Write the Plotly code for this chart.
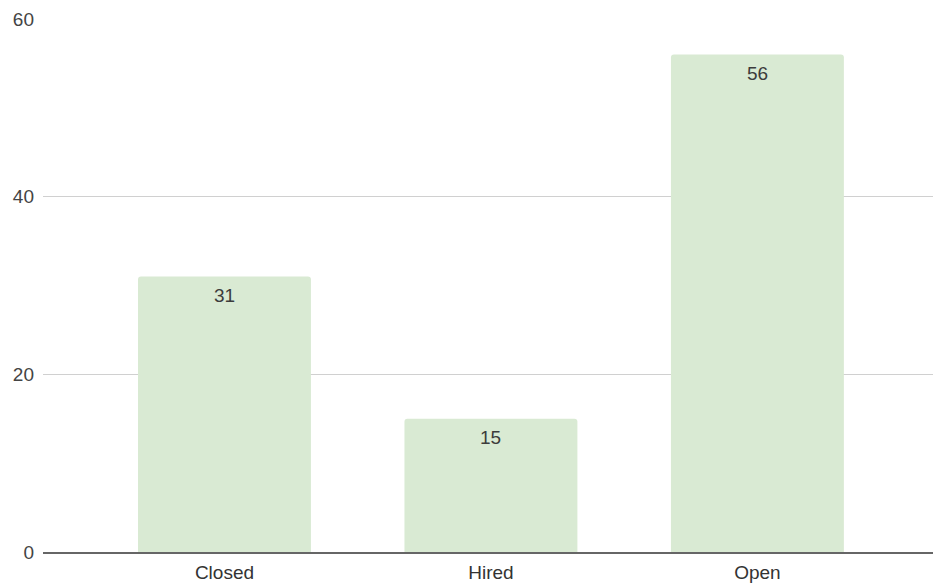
import plotly.graph_objects as go

categories = ["Closed", "Hired", "Open"]
values = [31, 15, 56]
y_ticks = [0, 20, 40, 60]

FONT = "Liberation Sans, Arial, sans-serif"

fig = go.Figure(
    go.Bar(
        x=categories,
        y=values,
        marker=dict(color="#d9ead3", cornerradius=3, line=dict(width=0)),
        hoverinfo="skip",
    )
)

for c, v in zip(categories, values):
    fig.add_annotation(
        x=c, y=v, text=str(v), showarrow=False,
        yanchor="top", yshift=-6,
        font=dict(family=FONT, size=19, color="#3c3c3c"),
    )

fig.update_layout(
    width=933,
    height=586,
    margin=dict(l=43, r=0, t=19, b=34),
    paper_bgcolor="white",
    plot_bgcolor="white",
    bargap=0.351,
    showlegend=False,
    font=dict(family=FONT, size=19, color="#444444"),
)
fig.update_xaxes(
    range=[-0.681, 2.659],
    showgrid=False,
    showline=True,
    linecolor="#666666",
    linewidth=1.5,
    ticks="",
    ticklabelstandoff=2,
    tickfont=dict(family=FONT, size=19, color="#333333"),
)
fig.update_yaxes(
    range=[0, 60],
    tickvals=y_ticks,
    showgrid=True,
    gridcolor="#d0d0d0",
    gridwidth=1.2,
    zeroline=False,
    ticks="",
    ticklabelstandoff=8,
    tickfont=dict(family=FONT, size=19, color="#444444"),
)

fig.write_html("out.html")
